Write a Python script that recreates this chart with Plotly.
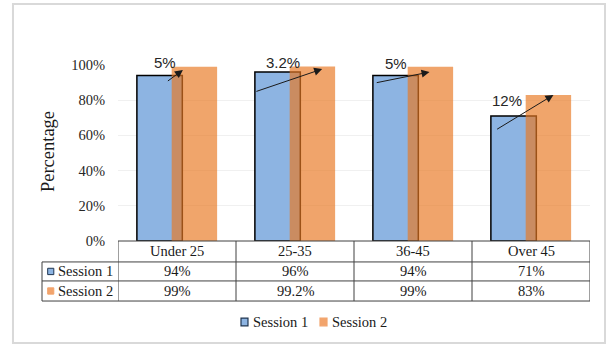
import plotly.graph_objects as go

# ---- data ----
age_groups = ["Under 25", "25-35", "36-45", "Over 45"]
session_1 = [0.94, 0.96, 0.94, 0.71]
session_2 = [0.99, 0.992, 0.99, 0.83]
increase_labels = ["5%", "3.2%", "5%", "12%"]
series_names = ["Session 1", "Session 2"]

# arrow geometry per group: (dx0, y0, dx1, y1), dx relative to the group centre
arrow_geom = [
    (-0.09, 0.903, 0.05, 0.972),
    (-0.34, 0.847, 0.23, 0.977),
    (-0.32, 0.898, 0.14, 0.960),
    (-0.30, 0.630, 0.19, 0.830),
]
# label anchor per group: (dx, y)
label_geom = [(-0.10, 1.012), (-0.10, 1.012), (-0.14, 1.008), (-0.20, 0.80)]

BLUE = "#8db4e2"
ORANGE = "rgb(233,121,35)"
ORANGE_KEY = "#f2a46c"
BLUE_EDGE = "#1f3550"
SERIF = "Liberation Serif"
SANS = "Liberation Sans"
RULE = "#404040"
TEXT = "#1a1a1a"

xs = list(range(len(age_groups)))
BAR_W = 0.385

fig = go.Figure()
fig.add_trace(go.Bar(
    x=xs, y=session_1, name=series_names[0], width=BAR_W, offset=-0.34,
    marker=dict(color=BLUE, line=dict(color="black", width=1.5)),
))
fig.add_trace(go.Bar(
    x=xs, y=session_2, name=series_names[1], width=BAR_W, offset=-0.045,
    marker=dict(color=ORANGE, line=dict(width=0)), opacity=0.67,
))

annotations = []
shapes = []

# increase arrows and labels
for i, ((dx0, y0, dx1, y1), (lx, ly), lab) in enumerate(zip(arrow_geom, label_geom, increase_labels)):
    annotations.append(dict(
        x=i + dx1, y=y1, ax=i + dx0, ay=y0, xref="x", yref="y", axref="x", ayref="y",
        showarrow=True, arrowhead=2, arrowsize=1.6, arrowwidth=1, arrowcolor="#1a1a1a", text="",
    ))
    annotations.append(dict(
        x=i + lx, y=ly, xref="x", yref="paper", text=lab, showarrow=False,
        font=dict(family=SANS, size=15, color="#262626"), xanchor="center", yanchor="middle",
    ))

# data table below the axis
row_y = {"top": 0.0, "h": -0.119, "r1": -0.227, "r2": -0.341}
left_edge = -0.161


def fmt(v):
    return f"{round(v * 100, 1):g}%"


# horizontal rules
shapes.append(dict(type="line", xref="paper", yref="paper", x0=0, x1=1, y0=row_y["top"], y1=row_y["top"],
                   line=dict(color=RULE, width=1)))
for key in ("h", "r1", "r2"):
    shapes.append(dict(type="line", xref="paper", yref="paper", x0=left_edge, x1=1,
                       y0=row_y[key], y1=row_y[key], line=dict(color=RULE, width=1)))
# vertical rules at category boundaries
for b in [i - 0.5 for i in range(len(age_groups) + 1)]:
    shapes.append(dict(type="line", xref="x", yref="paper", x0=b, x1=b, y0=row_y["top"], y1=row_y["r2"],
                       line=dict(color=RULE, width=1)))
shapes.append(dict(type="line", xref="paper", yref="paper", x0=left_edge, x1=left_edge,
                   y0=row_y["h"], y1=row_y["r2"], line=dict(color=RULE, width=1)))

cell_font = dict(family=SERIF, size=14.5, color=TEXT)
for i, g in enumerate(age_groups):
    annotations.append(dict(x=i, y=(row_y["top"] + row_y["h"]) / 2, xref="x", yref="paper", text=g,
                            showarrow=False, font=cell_font, yanchor="middle"))
    annotations.append(dict(x=i, y=(row_y["h"] + row_y["r1"]) / 2, xref="x", yref="paper",
                            text=fmt(session_1[i]), showarrow=False, font=cell_font, yanchor="middle"))
    annotations.append(dict(x=i, y=(row_y["r1"] + row_y["r2"]) / 2, xref="x", yref="paper",
                            text=fmt(session_2[i]), showarrow=False, font=cell_font, yanchor="middle"))

# row headers with series keys
key_styles = [(BLUE, BLUE_EDGE), (ORANGE_KEY, ORANGE_KEY)]
for name, (r0, r1), (fill, edge) in zip(series_names,
                                        [(row_y["h"], row_y["r1"]), (row_y["r1"], row_y["r2"])],
                                        key_styles):
    mid = (r0 + r1) / 2
    shapes.append(dict(type="rect", xref="paper", yref="paper", x0=-0.149, x1=-0.136,
                       y0=mid - 0.018, y1=mid + 0.018, fillcolor=fill, line=dict(color=edge, width=1)))
    annotations.append(dict(x=-0.131, y=mid, xref="paper", yref="paper", text=name, showarrow=False,
                            font=dict(family=SERIF, size=14.5, color=TEXT), xanchor="left", yanchor="middle"))

# legend below the table
legend_y = -0.460
for name, kx, (fill, edge) in zip(series_names, [0.2606, 0.428], key_styles):
    shapes.append(dict(type="rect", xref="paper", yref="paper", x0=kx, x1=kx + 0.0148,
                       y0=legend_y - 0.022, y1=legend_y + 0.022, fillcolor=fill,
                       line=dict(color=edge, width=1.2)))
    annotations.append(dict(x=kx + 0.021, y=legend_y, xref="paper", yref="paper", text=name,
                            showarrow=False, font=dict(family=SERIF, size=14.5, color=TEXT),
                            xanchor="left", yanchor="middle"))

# y-axis title
annotations.append(dict(x=-0.148, y=0.506, xref="paper", yref="paper", text="Percentage", textangle=-90,
                        showarrow=False, font=dict(family=SERIF, size=18.5, color=TEXT),
                        xanchor="center", yanchor="middle"))

# chart frame
shapes.append(dict(type="rect", xref="paper", yref="paper", x0=-0.2225, x1=1.0318, y0=-0.5795, y1=1.3466,
                   line=dict(color="#d9d9d9", width=2), fillcolor="rgba(0,0,0,0)", layer="below"))

fig.update_layout(
    width=609, height=345,
    margin=dict(l=118, r=19, t=65, b=104),
    paper_bgcolor="white", plot_bgcolor="white",
    barmode="overlay",
    showlegend=False,
    xaxis=dict(range=[-0.5, len(age_groups) - 0.5], showticklabels=False, showgrid=False,
               zeroline=False, showline=False, ticks=""),
    yaxis=dict(range=[0, 1.0], tickvals=[0, 0.2, 0.4, 0.6, 0.8, 1.0], tickformat=".0%",
               showgrid=True, gridcolor="#f0f0f0", gridwidth=1, zeroline=False, showline=False,
               ticks="", ticklabelstandoff=12,
               tickfont=dict(family=SERIF, size=14.5, color="#262626")),
    annotations=annotations,
    shapes=shapes,
)

fig.write_html("out.html")
